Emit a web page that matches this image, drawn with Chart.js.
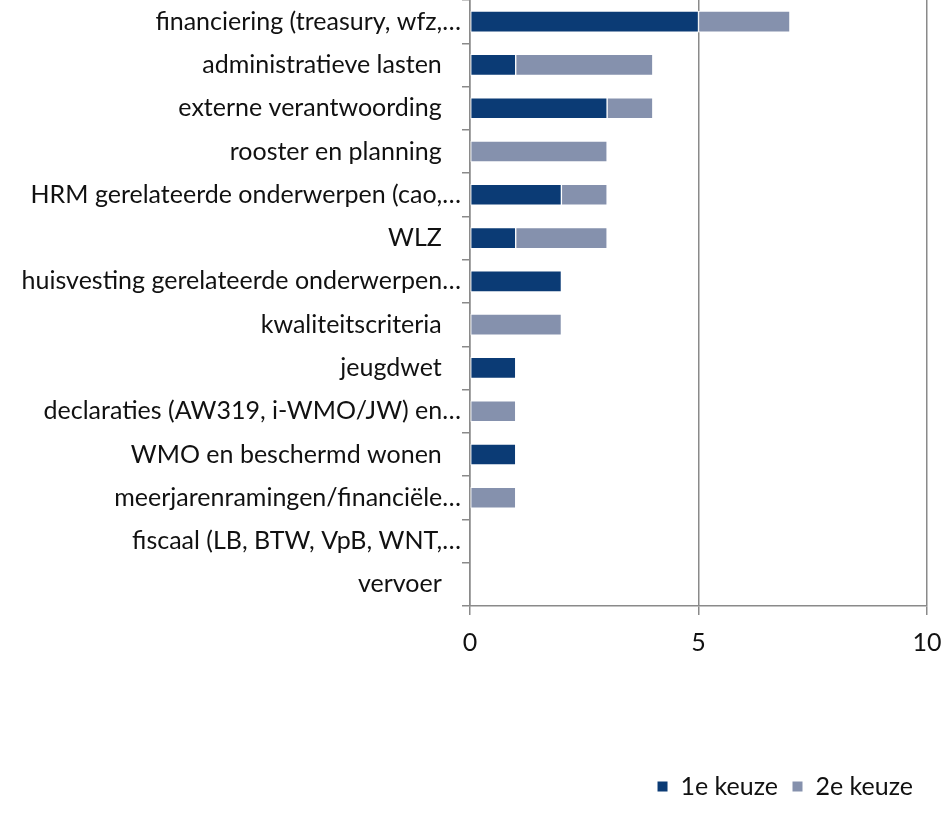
<!DOCTYPE html>
<html>
<head>
<meta charset="utf-8">
<script src="https://cdn.jsdelivr.net/npm/chart.js@4/dist/chart.umd.min.js"></script>
<style>
  html, body { margin: 0; padding: 0; background: #ffffff; }
  #wrap { width: 946px; height: 825px; }
</style>
</head>
<body>
<div id="wrap"><canvas id="c" width="946" height="825"></canvas></div>
<script>
const categories = [
  "financiering (treasury, wfz,…",
  "administratieve lasten",
  "externe verantwoording",
  "rooster en planning",
  "HRM gerelateerde onderwerpen (cao,…",
  "WLZ",
  "huisvesting gerelateerde onderwerpen…",
  "kwaliteitscriteria",
  "jeugdwet",
  "declaraties (AW319, i-WMO/JW) en…",
  "WMO en beschermd wonen",
  "meerjarenramingen/financiële…",
  "fiscaal (LB, BTW, VpB, WNT,…",
  "vervoer"
];
const firstChoice  = [5, 1, 3, 0, 2, 1, 2, 0, 1, 0, 1, 0, 0, 0];
const secondChoice = [2, 3, 1, 3, 1, 2, 0, 2, 0, 1, 0, 1, 0, 0];
const seriesNames = ["1e keuze", "2e keuze"];
const xTicks = [0, 5, 10];

const FONT = "Lato, 'Open Sans', sans-serif";
const GRID = "#8a8a8a";

new Chart(document.getElementById("c"), {
  type: "bar",
  data: {
    labels: categories,
    datasets: [
      { label: seriesNames[0], data: firstChoice, backgroundColor: "#0b3b75",
        borderColor: "#ffffff", borderWidth: 1, borderSkipped: false, barThickness: 21 },
      { label: seriesNames[1], data: secondChoice, backgroundColor: "#8591ad",
        borderColor: "#ffffff", borderWidth: 1, borderSkipped: false, barThickness: 21 }
    ]
  },
  options: {
    indexAxis: "y",
    responsive: false,
    animation: false,
    layout: { padding: { left: 0, right: 19, top: 0, bottom: 16 } },
    plugins: {
      legend: {
        position: "bottom",
        align: "end",
        labels: {
          font: { family: FONT, size: 25 },
          color: "#111111",
          boxWidth: 11,
          boxHeight: 11,
          padding: 14
        }
      },
      tooltip: { enabled: false }
    },
    scales: {
      x: {
        stacked: true,
        min: 0,
        max: 10,
        afterBuildTicks: (axis) => { axis.ticks = xTicks.map(v => ({ value: v })); },
        afterFit: (axis) => { axis.height = 154; axis.paddingLeft = 0; axis.paddingRight = 0; },
        ticks: { font: { family: FONT, size: 25 }, color: "#111111", padding: 13, maxRotation: 0 },
        grid: { color: GRID, lineWidth: 1.5, drawTicks: true, tickLength: 9, tickColor: GRID },
        border: { display: true, color: GRID, width: 1.5 }
      },
      y: {
        stacked: true,
        afterFit: (axis) => { axis.width = 470; axis.paddingTop = 0; axis.paddingBottom = 0; },
        ticks: {
          font: { family: FONT, size: 25 },
          color: "#111111",
          padding: 1,
          autoSkip: false,
          callback: function (value) {
            const s = this.getLabelForValue(value);
            return s.endsWith("…") ? s : s + "   ";
          }
        },
        grid: { drawOnChartArea: false, drawTicks: true, tickLength: 8, color: GRID, lineWidth: 1.5, offset: true },
        border: { display: true, color: GRID, width: 1.5 }
      }
    }
  }
});
</script>
</body>
</html>
